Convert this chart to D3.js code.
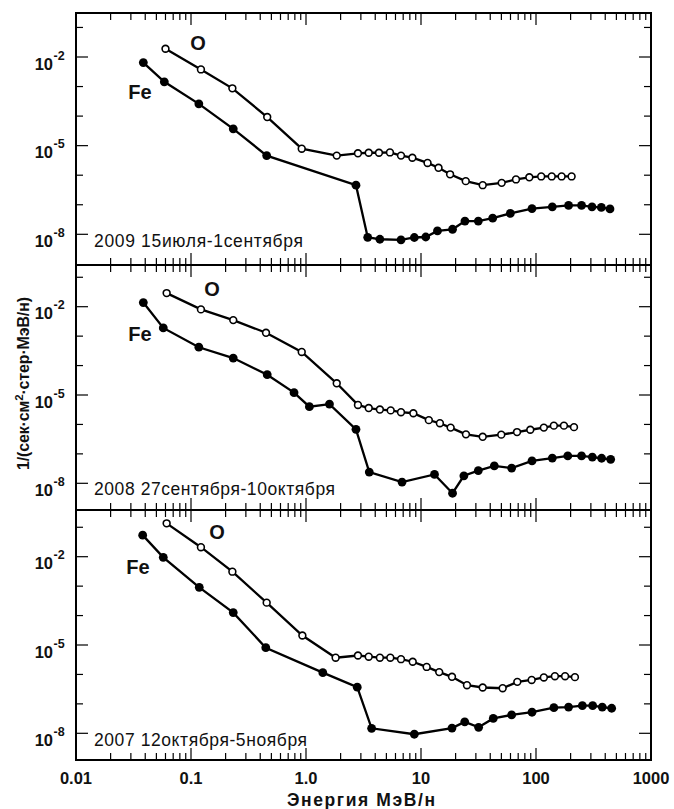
<!DOCTYPE html>
<html>
<head>
<meta charset="utf-8">
<script src="https://cdn.jsdelivr.net/npm/d3@7"></script>
<style>
body { margin: 0; background: #fff; }
text { font-family: Arial, "Liberation Sans", sans-serif; fill: #111; }
</style>
</head>
<body>
<svg id="chart" width="674" height="809"></svg>
<script>
// Energy (MeV/n) and flux 1/(s cm2 sr MeV/n)
var feEnergy2009 = [0.0385, 0.0586, 0.117, 0.233, 0.455, 2.72, 3.44, 4.39, 6.7, 8.75, 11.0, 13.9, 18.8, 24.1, 31.5, 42, 59.8, 92.3, 138.6, 192, 249, 307, 370, 440];
var feFlux2009 = [6.5e-3, 1.45e-3, 2.6e-4, 3.7e-5, 4.6e-6, 4.6e-7, 7.9e-9, 6.8e-9, 6.5e-9, 7.8e-9, 8.1e-9, 1.3e-8, 1.48e-8, 2.8e-8, 2.8e-8, 3.5e-8, 5.1e-8, 7.4e-8, 8.5e-8, 9.5e-8, 9.5e-8, 8.5e-8, 8.1e-8, 7.2e-8];
var oEnergy2009 = [0.060, 0.122, 0.229, 0.46, 0.918, 1.85, 2.83, 3.51, 4.31, 5.37, 6.70, 8.41, 11.4, 14.2, 17.9, 24.5, 34.4, 50.3, 67, 87.5, 111, 137, 167, 204];
var oFlux2009 = [1.9e-2, 3.8e-3, 8.7e-4, 9.3e-5, 7.9e-6, 4.6e-6, 5.5e-6, 5.75e-6, 5.75e-6, 5.9e-6, 4.6e-6, 3.9e-6, 2.6e-6, 1.78e-6, 1.07e-6, 6.3e-7, 4.6e-7, 5.5e-7, 7.2e-7, 8.5e-7, 9.1e-7, 9.1e-7, 9.1e-7, 9.1e-7];

var feEnergy2008 = [0.0385, 0.0574, 0.117, 0.233, 0.46, 0.787, 1.07, 1.60, 2.72, 3.55, 6.84, 13.1, 18.8, 23.6, 31.5, 43.4, 61.4, 92.3, 138.6, 189, 249, 309, 372, 446];
var feFlux2008 = [1.38e-2, 1.9e-3, 4.2e-4, 1.8e-4, 4.9e-5, 1.2e-5, 4.0e-6, 4.9e-6, 6.8e-7, 2.4e-8, 1.1e-8, 2.0e-8, 4.6e-9, 1.8e-8, 2.7e-8, 3.9e-8, 3.3e-8, 5.75e-8, 7.2e-8, 8.5e-8, 8.5e-8, 7.8e-8, 7.1e-8, 6.5e-8];
var oEnergy2008 = [0.0614, 0.122, 0.233, 0.449, 0.918, 1.85, 2.83, 3.51, 4.39, 5.45, 6.70, 8.58, 11.7, 14.6, 18.1, 24.6, 34.4, 49.9, 68.4, 89.2, 117, 143, 175, 214];
var oFlux2008 = [2.9e-2, 8.1e-3, 3.5e-3, 1.3e-3, 2.9e-4, 2.5e-5, 4.6e-6, 3.6e-6, 3.2e-6, 3.0e-6, 2.6e-6, 2.4e-6, 1.4e-6, 1.1e-6, 7.8e-7, 4.6e-7, 3.8e-7, 4.5e-7, 5.5e-7, 6.6e-7, 7.8e-7, 9.1e-7, 9.1e-7, 8.1e-7];

var feEnergy2007 = [0.038, 0.0574, 0.118, 0.233, 0.447, 1.40, 2.79, 3.72, 8.75, 18.6, 24, 31.7, 42.5, 61.4, 92.3, 143, 192, 253, 311, 377, 455];
var feFlux2007 = [5.4e-2, 9.5e-3, 9.1e-4, 1.26e-4, 8.1e-6, 1.15e-6, 3.7e-7, 1.48e-8, 9.3e-9, 1.5e-8, 2.45e-8, 1.6e-8, 3.2e-8, 4.2e-8, 5.2e-8, 7.4e-8, 7.8e-8, 8.7e-8, 8.7e-8, 7.8e-8, 7.1e-8];
var oEnergy2007 = [0.0614, 0.122, 0.229, 0.455, 0.93, 1.81, 2.83, 3.51, 4.39, 5.41, 6.70, 8.47, 11.2, 14.4, 18.6, 25.1, 34.4, 51.3, 68.8, 91.7, 117, 146, 179, 218];
var oFlux2007 = [1.36e-1, 2.1e-2, 3.1e-3, 2.75e-4, 2.1e-5, 3.7e-6, 4.4e-6, 4.0e-6, 3.7e-6, 3.7e-6, 3.3e-6, 2.7e-6, 1.8e-6, 1.2e-6, 8.3e-7, 4.3e-7, 3.6e-7, 3.4e-7, 5.6e-7, 6.5e-7, 7.9e-7, 8.7e-7, 8.7e-7, 8.1e-7];

var periodLabels = ["2009 15июля-1сентября", "2008 27сентября-10октября", "2007 12октября-5ноября"];
// positions of the "O" and "Fe" captions, in energy / flux units
var oLabelAt = [[0.115, 2.95e-2], [0.152, 4.0e-2], [0.168, 6.9e-2]];
var feLabelAt = [[0.036, 6.6e-4], [0.036, 1.18e-3], [0.0346, 4.5e-3]];

var xTickValues = [0.01, 0.1, 1, 10, 100, 1000];
var xTickLabels = ["0.01", "0.1", "1.0", "10", "100", "1000"];
var yTickExps = [-2, -5, -8];

var svg = d3.select("#chart");

var left = 76, right = 651;
var x = d3.scaleLog().domain([0.01, 1000]).range([left, right]);

// panel boxes, with the pixel rows of 1e-2 and 1e-8
var panels = [
  { top: 13, bottom: 265, y2: 57, y8: 234.3, labelY: 246.5, labelW: 209,
    fe: [feEnergy2009, feFlux2009], o: [oEnergy2009, oFlux2009] },
  { top: 265, bottom: 510, y2: 306.7, y8: 483.3, labelY: 495, labelW: 241,
    fe: [feEnergy2008, feFlux2008], o: [oEnergy2008, oFlux2008] },
  { top: 510, bottom: 760, y2: 556.7, y8: 733.3, labelY: 746, labelW: 213,
    fe: [feEnergy2007, feFlux2007], o: [oEnergy2007, oFlux2007] }
];

// minor x ticks 1..9 per decade
var xMinor = [];
for (var d = 0.01; d < 1000; d *= 10) {
  for (var k = 1; k < 10; k++) xMinor.push({ v: d * k, major: k == 1 });
}
xMinor = xMinor.filter(function(t) { return t.v > 0.0101; });

panels.forEach(function(p, i) {
  var y = d3.scaleLog().domain([1e-8, 1e-2]).range([p.y8, p.y2]);
  var g = svg.append("g");

  // x ticks, top and bottom, inward
  g.selectAll(".xt").data(xMinor).enter().append("line")
    .attr("x1", function(t) { return x(t.v); })
    .attr("x2", function(t) { return x(t.v); })
    .attr("y1", p.top)
    .attr("y2", function(t) { return p.top + (t.major ? 12 : 7); })
    .attr("stroke", "#000").attr("stroke-width", 1.2);
  g.selectAll(".xb").data(xMinor).enter().append("line")
    .attr("x1", function(t) { return x(t.v); })
    .attr("x2", function(t) { return x(t.v); })
    .attr("y1", p.bottom)
    .attr("y2", function(t) { return p.bottom - (t.major ? 12 : 7); })
    .attr("stroke", "#000").attr("stroke-width", 1.2);

  // y ticks, every decade
  var yt = [];
  for (var e = -9; e <= 0; e++) {
    var py = y(Math.pow(10, e));
    if (py > p.top + 3 && py < p.bottom - 3) yt.push({ e: e, major: yTickExps.indexOf(e) >= 0 });
  }
  g.selectAll(".yl").data(yt).enter().append("line")
    .attr("x1", left)
    .attr("x2", function(t) { return left + (t.major ? 12 : 7); })
    .attr("y1", function(t) { return y(Math.pow(10, t.e)); })
    .attr("y2", function(t) { return y(Math.pow(10, t.e)); })
    .attr("stroke", "#000").attr("stroke-width", 1.2);
  g.selectAll(".yr").data(yt).enter().append("line")
    .attr("x1", right)
    .attr("x2", function(t) { return right - (t.major ? 12 : 7); })
    .attr("y1", function(t) { return y(Math.pow(10, t.e)); })
    .attr("y2", function(t) { return y(Math.pow(10, t.e)); })
    .attr("stroke", "#000").attr("stroke-width", 1.2);

  // y labels 10^n
  yTickExps.forEach(function(e) {
    var py = y(Math.pow(10, e));
    g.append("text").attr("x", 53).attr("y", py + 12.5)
      .attr("text-anchor", "end").attr("font-size", 16.5).attr("font-weight", "bold")
      .text("10");
    g.append("text").attr("x", 53.5).attr("y", py + 2.5)
      .attr("font-size", 12.5).attr("font-weight", "bold")
      .text("-" + (-e));
  });

  // frame
  g.append("rect").attr("x", left).attr("y", p.top)
    .attr("width", right - left).attr("height", p.bottom - p.top)
    .attr("fill", "none").attr("stroke", "#000").attr("stroke-width", 2);

  var line = d3.line()
    .x(function(d) { return x(d[0]); })
    .y(function(d) { return y(d[1]); });

  var fePts = d3.zip(p.fe[0], p.fe[1]);
  var oPts = d3.zip(p.o[0], p.o[1]);

  g.append("path").datum(fePts).attr("d", line)
    .attr("fill", "none").attr("stroke", "#000").attr("stroke-width", 2.3);
  g.append("path").datum(oPts).attr("d", line)
    .attr("fill", "none").attr("stroke", "#000").attr("stroke-width", 2.3);

  g.selectAll(".fe").data(fePts).enter().append("circle")
    .attr("cx", function(d) { return x(d[0]); })
    .attr("cy", function(d) { return y(d[1]); })
    .attr("r", 4.4).attr("fill", "#000");
  g.selectAll(".o").data(oPts).enter().append("circle")
    .attr("cx", function(d) { return x(d[0]); })
    .attr("cy", function(d) { return y(d[1]); })
    .attr("r", 3.4).attr("fill", "#fff").attr("stroke", "#000").attr("stroke-width", 1.6);

  // series captions
  g.append("text").attr("x", x(oLabelAt[i][0])).attr("y", y(oLabelAt[i][1]))
    .attr("text-anchor", "middle").attr("dominant-baseline", "central")
    .attr("font-size", 20).attr("font-weight", "bold").text("O");
  g.append("text").attr("x", x(feLabelAt[i][0])).attr("y", y(feLabelAt[i][1]))
    .attr("text-anchor", "middle").attr("dominant-baseline", "central")
    .attr("font-size", 20).attr("font-weight", "bold").text("Fe");

  // period caption
  g.append("text").attr("x", 94).attr("y", p.labelY)
    .attr("font-size", 17.5)
    .attr("textLength", p.labelW).attr("lengthAdjust", "spacing")
    .text(periodLabels[i]);
});

// x tick labels under the last panel
svg.selectAll(".xlab").data(xTickValues).enter().append("text")
  .attr("x", function(d) { return x(d); })
  .attr("y", 784)
  .attr("text-anchor", "middle").attr("font-size", 16.5).attr("font-weight", "bold")
  .text(function(d, i) { return xTickLabels[i]; });

// axis titles
svg.append("text").attr("x", 361).attr("y", 806)
  .attr("text-anchor", "middle").attr("font-size", 17.5).attr("font-weight", "bold")
  .attr("textLength", 148).attr("lengthAdjust", "spacing")
  .text("Энергия МэВ/н");

var yt = svg.append("text")
  .attr("transform", "translate(29,383.5) rotate(-90)")
  .attr("text-anchor", "middle").attr("font-size", 16).attr("font-weight", "bold")
  .attr("textLength", 173).attr("lengthAdjust", "spacing");
yt.append("tspan").text("1/(сек·см");
yt.append("tspan").attr("dy", -6).attr("font-size", 11.5).text("2");
yt.append("tspan").attr("dy", 6).text("·стер·МэВ/н)");
</script>
</body>
</html>
